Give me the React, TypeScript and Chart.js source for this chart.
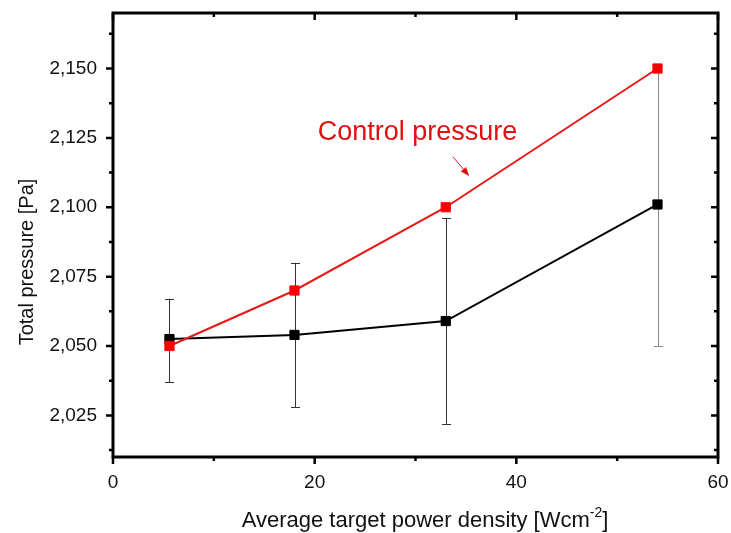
import React, { useEffect, useRef } from "react";
import { Chart, registerables } from "chart.js";

Chart.register(...registerables);

// ---- data ----
const powerDensity = [5.6, 18, 33, 54];
const controlPressure = [2.05, 2.07, 2.1, 2.15];
const totalPressure = [2.0525, 2.054, 2.059, 2.101];
const totalErrLow = [2.037, 2.028, 2.022, 2.05];
const totalErrHigh = [2.067, 2.08, 2.096, 2.151];

// ---- axes ----
const xMajorTicks = [0, 20, 40, 60];
const xMinorTicks = [10, 30, 50];
const yMajorTicks = [2.025, 2.05, 2.075, 2.1, 2.125, 2.15];
const yMinorTicks = [2.0125, 2.0375, 2.0625, 2.0875, 2.1125, 2.1375, 2.1625];
const X_MIN = 0, X_MAX = 60, Y_MIN = 2.01, Y_MAX = 2.17;

const xTitle = "Average target power density [Wcm";
const xTitleSup = "-2";
const yTitle = "Total pressure [Pa]";
const annotationText = "Control pressure";
const annotationAt = { x: 20.3, y: 2.1243 };
const arrowFrom = { x: 33.7, y: 2.1182 };
const arrowTo = { x: 35.2, y: 2.1118 };

const FONT = "Arial, 'Liberation Sans', Helvetica, sans-serif";
const RED = "#ff0000";
const RED_LINE = "#e81818";
const errColors = ["#333333", "#333333", "#333333", "#8a8a8a"];

const decor = {
  id: "decor",
  beforeDatasetsDraw(chart: any) {
    const ctx = chart.ctx;
    const xs = chart.scales.x;
    const ys = chart.scales.y;
    ctx.save();
    ctx.lineWidth = 1;
    powerDensity.forEach((xv, i) => {
      const px = Math.round(xs.getPixelForValue(xv)) + 0.5;
      const y1 = ys.getPixelForValue(totalErrLow[i]);
      const y2 = ys.getPixelForValue(totalErrHigh[i]);
      ctx.strokeStyle = errColors[i];
      ctx.beginPath();
      ctx.moveTo(px, y1);
      ctx.lineTo(px, y2);
      ctx.moveTo(px - 4.5, Math.round(y1) + 0.5);
      ctx.lineTo(px + 4.5, Math.round(y1) + 0.5);
      ctx.moveTo(px - 4.5, Math.round(y2) + 0.5);
      ctx.lineTo(px + 4.5, Math.round(y2) + 0.5);
      ctx.stroke();
    });
    ctx.restore();
  },
  afterDraw(chart: any) {
    const ctx = chart.ctx;
    const { left, right, top, bottom } = chart.chartArea;
    const xs = chart.scales.x;
    const ys = chart.scales.y;
    ctx.save();
    // frame
    ctx.strokeStyle = "#000";
    ctx.lineWidth = 3;
    ctx.strokeRect(left, top, right - left, bottom - top);
    // ticks
    ctx.lineWidth = 2.5;
    ctx.beginPath();
    const xt = (v: number, len: number) => {
      const p = xs.getPixelForValue(v);
      ctx.moveTo(p, bottom);
      ctx.lineTo(p, bottom + len);
      ctx.moveTo(p, top);
      ctx.lineTo(p, top + len);
    };
    const yt = (v: number, len: number) => {
      const p = ys.getPixelForValue(v);
      ctx.moveTo(left, p);
      ctx.lineTo(left - len, p);
      ctx.moveTo(right, p);
      ctx.lineTo(right - len, p);
    };
    xMajorTicks.forEach((v) => xt(v, 7));
    xMinorTicks.forEach((v) => xt(v, 4));
    yMajorTicks.forEach((v) => yt(v, 7));
    yMinorTicks.forEach((v) => yt(v, 4));
    ctx.stroke();

    // axis titles
    ctx.fillStyle = "#111";
    const TF = 22;
    ctx.font = `${TF}px ${FONT}`;
    ctx.textBaseline = "alphabetic";
    const mainW = ctx.measureText(xTitle).width;
    ctx.font = `14px ${FONT}`;
    const supW = ctx.measureText(xTitleSup).width;
    ctx.font = `${TF}px ${FONT}`;
    const brW = ctx.measureText("]").width;
    const total = mainW + supW + brW;
    const cx = 425;
    const sx = cx - total / 2;
    const by = bottom + 70;
    ctx.textAlign = "left";
    ctx.fillText(xTitle, sx, by);
    ctx.font = `14px ${FONT}`;
    ctx.fillText(xTitleSup, sx + mainW, by - 10);
    ctx.font = `${TF}px ${FONT}`;
    ctx.fillText("]", sx + mainW + supW, by);

    ctx.save();
    ctx.translate(left - 80, 262);
    ctx.rotate(-Math.PI / 2);
    ctx.textAlign = "center";
    ctx.font = `20px ${FONT}`;
    ctx.fillText(yTitle, 0, 0);
    ctx.restore();

    // annotation
    ctx.fillStyle = "#e01010";
    ctx.font = `27px ${FONT}`;
    ctx.textAlign = "left";
    ctx.fillText(annotationText, xs.getPixelForValue(annotationAt.x), ys.getPixelForValue(annotationAt.y));
    const ax1 = xs.getPixelForValue(arrowFrom.x), ay1 = ys.getPixelForValue(arrowFrom.y);
    const ax2 = xs.getPixelForValue(arrowTo.x), ay2 = ys.getPixelForValue(arrowTo.y);
    ctx.strokeStyle = "#c0282c";
    ctx.lineWidth = 1;
    ctx.beginPath();
    ctx.moveTo(ax1, ay1);
    ctx.lineTo(ax2, ay2);
    ctx.stroke();
    const ang = Math.atan2(ay2 - ay1, ax2 - ax1);
    ctx.fillStyle = "#e01010";
    ctx.beginPath();
    ctx.moveTo(ax2 + 2 * Math.cos(ang), ay2 + 2 * Math.sin(ang));
    ctx.lineTo(ax2 - 7 * Math.cos(ang) + 3.5 * Math.sin(ang), ay2 - 7 * Math.sin(ang) - 3.5 * Math.cos(ang));
    ctx.lineTo(ax2 - 7 * Math.cos(ang) - 3.5 * Math.sin(ang), ay2 - 7 * Math.sin(ang) + 3.5 * Math.cos(ang));
    ctx.closePath();
    ctx.fill();
    ctx.restore();
  },
};

export default function App() {
  const ref = useRef<HTMLCanvasElement | null>(null);
  useEffect(() => {
    if (!ref.current) return;
    const chart = new Chart(ref.current, {
      type: "line",
      data: {
        datasets: [
          {
            label: "Control pressure",
            data: powerDensity.map((x, i) => ({ x, y: controlPressure[i] })),
            borderColor: RED_LINE,
            backgroundColor: RED,
            pointBackgroundColor: RED,
            pointBorderColor: RED,
            borderWidth: 2,
            pointStyle: "rect",
            pointRadius: 6.5,
            pointBorderWidth: 1,
            tension: 0,
            order: 0,
          },
          {
            label: "Total pressure",
            data: powerDensity.map((x, i) => ({ x, y: totalPressure[i] })),
            borderColor: "#000",
            backgroundColor: "#000",
            pointBackgroundColor: "#000",
            pointBorderColor: "#000",
            borderWidth: 2,
            pointStyle: "rect",
            pointRadius: 6.5,
            pointBorderWidth: 1,
            tension: 0,
            order: 1,
          },
        ],
      },
      options: {
        animation: false,
        responsive: false,
        devicePixelRatio: 1,
        layout: { padding: { top: 13, right: 13, left: 0, bottom: 0 } },
        plugins: { legend: { display: false }, tooltip: { enabled: false } },
        scales: {
          x: {
            type: "linear",
            min: X_MIN,
            max: X_MAX,
            grid: { display: false, drawTicks: false },
            border: { display: false },
            afterBuildTicks: (s: any) => {
              s.ticks = xMajorTicks.map((v) => ({ value: v }));
            },
            afterFit: (s: any) => {
              s.height = 76;
              s.paddingLeft = 0;
              s.paddingRight = 0;
              s.paddingTop = 0;
              s.paddingBottom = 0;
            },
            ticks: {
              padding: 14,
              color: "#111",
              font: { family: FONT, size: 19 },
              maxRotation: 0,
              callback: (v: any) => String(v),
            },
          },
          y: {
            type: "linear",
            min: Y_MIN,
            max: Y_MAX,
            grid: { display: false, drawTicks: false },
            border: { display: false },
            afterBuildTicks: (s: any) => {
              s.ticks = yMajorTicks.map((v) => ({ value: v }));
            },
            afterFit: (s: any) => {
              s.width = 113;
              s.paddingLeft = 0;
              s.paddingRight = 0;
              s.paddingTop = 0;
              s.paddingBottom = 0;
            },
            ticks: {
              padding: 16,
              color: "#111",
              font: { family: FONT, size: 19 },
              callback: (v: any) => Number(v).toFixed(3).replace(".", ","),
            },
          },
        },
      },
      plugins: [decor],
    } as any);
    return () => chart.destroy();
  }, []);
  return (
    <div style={{ position: "fixed", left: 0, top: 0, width: 731, height: 533, background: "#fff" }}>
      <canvas ref={ref} width={731} height={533} style={{ width: 731, height: 533, display: "block" }} />
    </div>
  );
}
